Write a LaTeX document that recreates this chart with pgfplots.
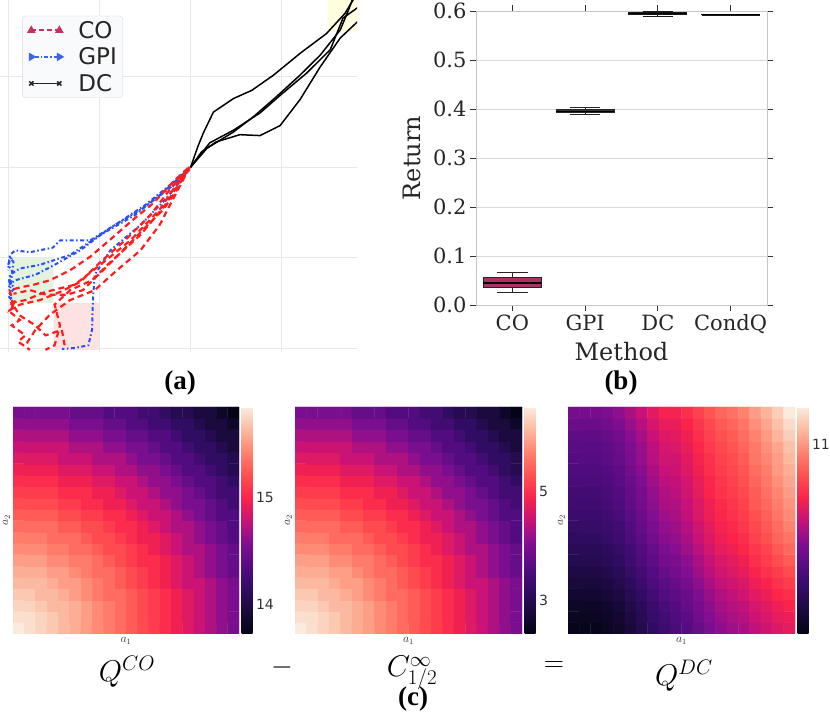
\RequirePackage{fix-cm}
\documentclass[border=0pt]{standalone}
\usepackage{pgfplots}
\pgfplotsset{compat=1.18}
\usepgfplotslibrary{statistics}
\usepackage{fontspec}
\newfontfamily\djsans{DejaVu Sans}
\newfontfamily\djserif{DejaVu Serif}
\newfontfamily\libserif{Liberation Serif}
\definecolor{legbg}{RGB}{248,250,251}
\definecolor{trajred}{RGB}{255,30,30}
\definecolor{trajblue}{RGB}{40,80,245}
\definecolor{legred}{RGB}{200,50,90}
\definecolor{legblue}{RGB}{60,100,230}
\definecolor{cofill}{RGB}{170,50,100}
\definecolor{gpifill}{RGB}{50,50,65}
\definecolor{dcfill}{RGB}{25,25,25}
\definecolor{yelbox}{RGB}{254,254,222}
\definecolor{grnbox}{RGB}{228,242,224}
\definecolor{pnkbox}{RGB}{253,226,226}
\pgfplotsset{
 heat/.style={
   colormap={flare}{rgb255=(4,4,20) rgb255=(25,10,60) rgb255=(50,12,100) rgb255=(85,12,130) rgb255=(130,14,145) rgb255=(200,18,120) rgb255=(250,35,75) rgb255=(255,80,80) rgb255=(255,130,110) rgb255=(252,185,160) rgb255=(250,235,222)},
   anchor=south west, scale only axis, width=227pt, height=227pt,
   xmin=-0.5, xmax=19.5, ymin=-0.5, ymax=19.5, enlargelimits=false,
   axis line style={draw=none}, xtick=\empty, ytick=\empty,
   xlabel={$a_1$}, ylabel={$a_2$},
   label style={font=\fontsize{12}{14}\selectfont, text=black!80, inner sep=1.5pt},
   xlabel style={at={(axis description cs:0.5,-0.008)}, anchor=north},
   ylabel style={at={(axis description cs:-0.006,0.5)}, anchor=south},
   colorbar,
   colorbar shift/.style={xshift=2.5pt},
   colorbar style={width=11pt, axis line style={draw=none}, major tick length=0pt,
     yticklabel style={font=\djsans\fontsize{14}{16}\selectfont, text=black!80, /pgf/number format/assume math mode=true}},
 },
 hm/.style={matrix plot*, mesh/cols=20, point meta=explicit},
}
\begin{document}
\begin{tikzpicture}[x=1pt,y=1pt]
\useasboundingbox (0pt,0pt) rectangle (830pt,720pt);

% ---------------- panel (a) ----------------
\begin{axis}[at={(0pt,368pt)}, anchor=south west, scale only axis, width=357pt, height=352pt,
  xmin=-0.088, xmax=3.823, ymin=-0.044, ymax=3.85,
  axis line style={draw=none}, xtick={0,1,2,3}, ytick={0,1,2,3},
  xticklabels={}, yticklabels={}, major tick length=0pt,
  grid=major, grid style={gray!18, line width=0.8pt},
  legend style={at={(0.062,0.955)}, anchor=north west, draw=gray!30, fill=legbg,
    rounded corners=3pt, font=\djsans\fontsize{23}{27}\selectfont, text=black!85,
    inner xsep=4pt, inner ysep=3pt, row sep=4pt},
  legend cell align=left,
  legend image code/.code={\path (-4pt,0pt) (44pt,0pt); \draw[#1] plot coordinates {(0pt,0pt) (28pt,0pt)};}]
\addplot[draw=none, fill=yelbox, forget plot] coordinates {(3.5,3.5) (3.95,3.5) (3.95,3.95) (3.5,3.95) (3.5,3.5)};
\addplot[draw=none, fill=grnbox, forget plot] coordinates {(0,0.5) (0.5,0.5) (0.5,1.0) (0,1.0) (0,0.5)};
\addplot[draw=none, fill=pnkbox, forget plot] coordinates {(0.5,-0.02) (1.0,-0.02) (1.0,0.5) (0.5,0.5) (0.5,-0.02)};
% GPI
\addplot[trajblue, line width=2pt, dash pattern=on 1.5pt off 2.5pt on 4pt off 2.5pt, forget plot] coordinates {(1.99,2.0) (1.77,1.8) (1.5,1.58) (1.17,1.36) (0.9,1.19) (0.57,1.19) (0.49,1.11) (0.24,1.06) (0.08,1.08) (0.02,1.03) (0.0,0.86)};
\addplot[trajblue, line width=2pt, dash pattern=on 1.5pt off 2.5pt on 4pt off 2.5pt, forget plot] coordinates {(1.97,1.97) (1.66,1.69) (1.39,1.47) (1.01,1.25) (0.68,1.03) (0.35,0.92) (0.13,0.88) (0.02,0.81) (0.01,0.64)};
\addplot[trajblue, line width=2pt, dash pattern=on 1.5pt off 2.5pt on 4pt off 2.5pt, forget plot] coordinates {(1.97,1.95) (1.72,1.64) (1.45,1.36) (1.12,1.08) (0.95,0.81) (0.93,0.53) (0.92,0.2) (0.88,0.03) (0.73,0.0) (0.59,-0.01)};
\addplot[trajblue, line width=2pt, dash pattern=on 1.5pt off 2.5pt on 4pt off 2.5pt, forget plot] coordinates {(1.99,1.97) (1.75,1.75) (1.45,1.53) (1.12,1.33) (0.79,1.08) (0.51,0.92) (0.30,0.81) (0.08,0.75) (0.01,0.7)};
\addplot[trajblue, line width=2pt, dash pattern=on 1.5pt off 2.5pt on 4pt off 2.5pt, forget plot] coordinates {(0.04,1.0) (0.0,0.92) (0.05,0.84) (0.01,0.75) (0.07,0.66) (0.0,0.58) (0.04,0.53) (0.02,0.62) (0.06,0.95) (0.01,1.02)};
% CO
\addplot[trajred, line width=2.2pt, dash pattern=on 6pt off 4pt, forget plot] coordinates {(1.97,1.99) (1.81,1.84) (1.59,1.6) (1.37,1.42) (1.12,1.2) (0.9,1.01) (0.68,0.86) (0.46,0.75) (0.28,0.7) (0.13,0.67) (0.02,0.64) (0.05,0.5) (0.0,0.45)};
\addplot[trajred, line width=2.2pt, dash pattern=on 6pt off 4pt, forget plot] coordinates {(1.97,1.99) (1.85,1.75) (1.70,1.53) (1.48,1.31) (1.23,1.05) (1.01,0.83) (0.82,0.64) (0.64,0.59) (0.42,0.59) (0.24,0.64) (0.06,0.6)};
\addplot[trajred, line width=2.2pt, dash pattern=on 6pt off 4pt, forget plot] coordinates {(1.99,2.0) (1.77,1.75) (1.56,1.47) (1.28,1.19) (1.01,0.95) (0.79,0.73) (0.57,0.62) (0.35,0.53) (0.13,0.48) (0.02,0.42) (0.08,0.53) (0.02,0.40) (0.13,0.31) (0.04,0.25) (0.19,0.14) (0.11,0.07) (0.24,-0.02)};
\addplot[trajred, line width=2.2pt, dash pattern=on 6pt off 4pt, forget plot] coordinates {(1.99,2.0) (1.83,1.69) (1.66,1.36) (1.45,1.08) (1.17,0.84) (0.95,0.64) (0.68,0.53) (0.46,0.37) (0.30,0.2) (0.19,0.03)};
\addplot[trajred, line width=2.2pt, dash pattern=on 6pt off 4pt, forget plot] coordinates {(1.97,1.97) (1.72,1.58) (1.45,1.25) (1.12,0.95) (0.92,0.75) (0.68,0.64) (0.51,0.48) (0.57,0.25) (0.51,0.03) (0.41,-0.02)};
\addplot[trajred, line width=2.2pt, dash pattern=on 6pt off 4pt, forget plot] coordinates {(1.94,1.95) (1.66,1.53) (1.34,1.19) (1.01,0.92) (0.73,0.70) (0.41,0.62) (0.19,0.53) (0.04,0.50) (0.13,0.36) (0.30,0.25) (0.41,0.14) (0.59,0.2) (0.62,0.03)};
% DC
\addplot[black, line width=1.5pt, forget plot] coordinates {(2.0,2.0) (2.08,2.23) (2.14,2.38) (2.25,2.61) (2.47,2.76) (2.67,2.85) (2.91,3.02) (3.2,3.26) (3.49,3.48) (3.69,3.70) (3.78,3.85) (3.8,3.9)};
\addplot[black, line width=1.5pt, forget plot] coordinates {(2.0,2.0) (2.18,2.21) (2.47,2.39) (2.69,2.56) (2.94,2.78) (3.2,3.02) (3.42,3.24) (3.64,3.52) (3.73,3.74) (3.79,3.9)};
\addplot[black, line width=1.5pt, forget plot] coordinates {(2.0,2.0) (2.21,2.27) (2.47,2.41) (2.76,2.6) (3.01,2.82) (3.27,3.04) (3.53,3.3) (3.67,3.65) (3.85,3.78)};
\addplot[black, line width=1.5pt, forget plot] coordinates {(2.0,2.0) (2.12,2.17) (2.28,2.28) (2.54,2.36) (2.76,2.35) (2.98,2.46) (3.2,2.75) (3.42,3.11) (3.64,3.43) (3.85,3.63)};
\addlegendimage{legred, line width=2pt, dash pattern=on 5pt off 3pt, mark=triangle*, mark size=3pt, mark options={solid}}
\addlegendentry{CO}
\addlegendimage{legblue, line width=2pt, dash pattern=on 1.5pt off 2pt on 4pt off 2pt, mark=triangle*, mark size=3pt, mark options={solid, rotate=-90}}
\addlegendentry{GPI}
\addlegendimage{black!85, line width=1.5pt, mark=x, mark size=3pt}
\addlegendentry{DC}
\end{axis}

% ---------------- panel (b) ----------------
\begin{axis}[at={(476pt,415pt)}, anchor=south west, scale only axis, width=291pt, height=294pt,
  xmin=-0.5, xmax=3.5, ymin=0, ymax=0.6,
  xtick={0,1,2,3}, xticklabels={CO,GPI,DC,CondQ},
  ytick={0,0.1,0.2,0.3,0.4,0.5,0.6},
  yticklabel style={/pgf/number format/.cd, fixed, fixed zerofill, precision=1, assume math mode=true},
  ticklabel style={font=\djserif\fontsize{21}{24}\selectfont, text=black!85},
  ymajorgrids, grid style={gray!30, line width=0.8pt},
  axis line style={gray!45, line width=0.8pt},
  tick align=outside, tick pos=both, major tick length=6pt,
  tick style={black!80, line width=0.9pt},
  xlabel={Method}, ylabel={Return},
  label style={font=\djserif\fontsize{24}{28}\selectfont, text=black!85},
  xlabel style={at={(axis description cs:0.5,-0.16)}, anchor=center},
  ylabel style={at={(axis description cs:-0.22,0.5)}, anchor=center},
  boxplot/draw direction=y,
  boxplot/box extend=0.8, boxplot/whisker extend=0.42,
  boxplot/every median/.style={black, line width=1.3pt}]
\addplot[boxplot prepared={draw position=0, lower whisker=0.025, lower quartile=0.035, median=0.045, upper quartile=0.056, upper whisker=0.066}, draw=black!85, fill=cofill, line width=1pt] coordinates {};
\addplot[boxplot prepared={draw position=1, lower whisker=0.388, lower quartile=0.392, median=0.395, upper quartile=0.399, upper whisker=0.403}, draw=black!85, fill=gpifill, line width=1pt] coordinates {};
\addplot[boxplot prepared={draw position=2, lower whisker=0.589, lower quartile=0.592, median=0.595, upper quartile=0.5975, upper whisker=0.598}, draw=black!90, fill=dcfill, line width=1pt] coordinates {};
\addplot[boxplot prepared={draw position=3, lower whisker=0.5922, lower quartile=0.5923, median=0.5925, upper quartile=0.5927, upper whisker=0.5928}, draw=black!90, fill=dcfill, line width=1.2pt] coordinates {};
\end{axis}

% ---------------- panel (c) ----------------
\begin{axis}[heat, at={(13pt,86pt)}, width=226pt, point meta min=13.72, point meta max=15.85, colorbar style={ytick={14,15}}]
\addplot[hm] table[row sep=\\, x expr={\coordindex-20*floor((\coordindex+0.5)/20)}, y expr={floor((\coordindex+0.5)/20)}, meta=v] {
v\\
15.85\\15.80\\15.75\\15.70\\15.64\\15.59\\15.53\\15.46\\15.40\\15.33\\15.26\\15.19\\15.12\\15.04\\14.96\\14.88\\14.80\\14.71\\14.62\\14.53\\
15.80\\15.80\\15.75\\15.70\\15.64\\15.59\\15.53\\15.46\\15.40\\15.33\\15.26\\15.19\\15.12\\15.04\\14.96\\14.88\\14.80\\14.71\\14.62\\14.53\\
15.75\\15.75\\15.70\\15.64\\15.64\\15.59\\15.53\\15.46\\15.40\\15.33\\15.26\\15.19\\15.12\\15.04\\14.96\\14.88\\14.80\\14.71\\14.62\\14.53\\
15.70\\15.70\\15.64\\15.64\\15.59\\15.53\\15.46\\15.40\\15.33\\15.33\\15.26\\15.19\\15.12\\15.04\\14.96\\14.88\\14.80\\14.71\\14.62\\14.53\\
15.64\\15.64\\15.64\\15.59\\15.53\\15.53\\15.46\\15.40\\15.33\\15.26\\15.19\\15.12\\15.04\\14.96\\14.88\\14.80\\14.80\\14.71\\14.62\\14.53\\
15.59\\15.59\\15.59\\15.53\\15.53\\15.46\\15.40\\15.33\\15.33\\15.26\\15.19\\15.12\\15.04\\14.96\\14.88\\14.80\\14.71\\14.62\\14.53\\14.44\\
15.53\\15.53\\15.53\\15.46\\15.46\\15.40\\15.40\\15.33\\15.26\\15.19\\15.12\\15.04\\15.04\\14.96\\14.88\\14.80\\14.71\\14.62\\14.53\\14.44\\
15.46\\15.46\\15.46\\15.40\\15.40\\15.33\\15.33\\15.26\\15.19\\15.19\\15.12\\15.04\\14.96\\14.88\\14.80\\14.71\\14.71\\14.62\\14.53\\14.44\\
15.40\\15.40\\15.40\\15.33\\15.33\\15.33\\15.26\\15.19\\15.19\\15.12\\15.04\\14.96\\14.96\\14.88\\14.80\\14.71\\14.62\\14.53\\14.44\\14.34\\
15.33\\15.33\\15.33\\15.33\\15.26\\15.26\\15.19\\15.19\\15.12\\15.04\\15.04\\14.96\\14.88\\14.80\\14.71\\14.71\\14.62\\14.53\\14.44\\14.34\\
15.26\\15.26\\15.26\\15.26\\15.19\\15.19\\15.12\\15.12\\15.04\\15.04\\14.96\\14.88\\14.80\\14.80\\14.71\\14.62\\14.53\\14.44\\14.34\\14.34\\
15.19\\15.19\\15.19\\15.19\\15.12\\15.12\\15.04\\15.04\\14.96\\14.96\\14.88\\14.80\\14.80\\14.71\\14.62\\14.53\\14.53\\14.44\\14.34\\14.24\\
15.12\\15.12\\15.12\\15.12\\15.04\\15.04\\15.04\\14.96\\14.96\\14.88\\14.80\\14.80\\14.71\\14.62\\14.62\\14.53\\14.44\\14.34\\14.24\\14.24\\
15.04\\15.04\\15.04\\15.04\\14.96\\14.96\\14.96\\14.88\\14.88\\14.80\\14.80\\14.71\\14.62\\14.62\\14.53\\14.44\\14.34\\14.34\\14.24\\14.14\\
14.96\\14.96\\14.96\\14.96\\14.88\\14.88\\14.88\\14.80\\14.80\\14.71\\14.71\\14.62\\14.62\\14.53\\14.44\\14.34\\14.34\\14.24\\14.14\\14.04\\
14.88\\14.88\\14.88\\14.88\\14.80\\14.80\\14.80\\14.71\\14.71\\14.71\\14.62\\14.53\\14.53\\14.44\\14.34\\14.34\\14.24\\14.14\\14.14\\14.04\\
14.80\\14.80\\14.80\\14.80\\14.80\\14.71\\14.71\\14.71\\14.62\\14.62\\14.53\\14.53\\14.44\\14.34\\14.34\\14.24\\14.14\\14.14\\14.04\\13.94\\
14.71\\14.71\\14.71\\14.71\\14.71\\14.62\\14.62\\14.62\\14.53\\14.53\\14.44\\14.44\\14.34\\14.34\\14.24\\14.14\\14.14\\14.04\\13.94\\13.94\\
14.62\\14.62\\14.62\\14.62\\14.62\\14.53\\14.53\\14.53\\14.44\\14.44\\14.34\\14.34\\14.24\\14.24\\14.14\\14.14\\14.04\\13.94\\13.94\\13.83\\
14.53\\14.53\\14.53\\14.53\\14.53\\14.44\\14.44\\14.44\\14.34\\14.34\\14.34\\14.24\\14.24\\14.14\\14.04\\14.04\\13.94\\13.94\\13.83\\13.72\\
};
\end{axis}

\begin{axis}[heat, at={(295pt,86pt)}, point meta min=2.38, point meta max=6.54, colorbar style={ytick={3,5}}]
\addplot[hm] table[row sep=\\, x expr={\coordindex-20*floor((\coordindex+0.5)/20)}, y expr={floor((\coordindex+0.5)/20)}, meta=v] {
v\\
6.54\\6.44\\6.34\\6.25\\6.13\\6.03\\5.92\\5.78\\5.66\\5.52\\5.39\\5.25\\5.11\\4.96\\4.80\\4.65\\4.49\\4.31\\4.14\\3.96\\
6.44\\6.44\\6.34\\6.25\\6.13\\6.03\\5.92\\5.78\\5.66\\5.52\\5.39\\5.25\\5.11\\4.96\\4.80\\4.65\\4.49\\4.31\\4.14\\3.96\\
6.34\\6.34\\6.25\\6.13\\6.13\\6.03\\5.92\\5.78\\5.66\\5.52\\5.39\\5.25\\5.11\\4.96\\4.80\\4.65\\4.49\\4.31\\4.14\\3.96\\
6.25\\6.25\\6.13\\6.13\\6.03\\5.92\\5.78\\5.66\\5.52\\5.52\\5.39\\5.25\\5.11\\4.96\\4.80\\4.65\\4.49\\4.31\\4.14\\3.96\\
6.13\\6.13\\6.13\\6.03\\5.92\\5.92\\5.78\\5.66\\5.52\\5.39\\5.25\\5.11\\4.96\\4.80\\4.65\\4.49\\4.49\\4.31\\4.14\\3.96\\
6.03\\6.03\\6.03\\5.92\\5.92\\5.78\\5.66\\5.52\\5.52\\5.39\\5.25\\5.11\\4.96\\4.80\\4.65\\4.49\\4.31\\4.14\\3.96\\3.79\\
5.92\\5.92\\5.92\\5.78\\5.78\\5.66\\5.66\\5.52\\5.39\\5.25\\5.11\\4.96\\4.96\\4.80\\4.65\\4.49\\4.31\\4.14\\3.96\\3.79\\
5.78\\5.78\\5.78\\5.66\\5.66\\5.52\\5.52\\5.39\\5.25\\5.25\\5.11\\4.96\\4.80\\4.65\\4.49\\4.31\\4.31\\4.14\\3.96\\3.79\\
5.66\\5.66\\5.66\\5.52\\5.52\\5.52\\5.39\\5.25\\5.25\\5.11\\4.96\\4.80\\4.80\\4.65\\4.49\\4.31\\4.14\\3.96\\3.79\\3.59\\
5.52\\5.52\\5.52\\5.52\\5.39\\5.39\\5.25\\5.25\\5.11\\4.96\\4.96\\4.80\\4.65\\4.49\\4.31\\4.31\\4.14\\3.96\\3.79\\3.59\\
5.39\\5.39\\5.39\\5.39\\5.25\\5.25\\5.11\\5.11\\4.96\\4.96\\4.80\\4.65\\4.49\\4.49\\4.31\\4.14\\3.96\\3.79\\3.59\\3.59\\
5.25\\5.25\\5.25\\5.25\\5.11\\5.11\\4.96\\4.96\\4.80\\4.80\\4.65\\4.49\\4.49\\4.31\\4.14\\3.96\\3.96\\3.79\\3.59\\3.40\\
5.11\\5.11\\5.11\\5.11\\4.96\\4.96\\4.96\\4.80\\4.80\\4.65\\4.49\\4.49\\4.31\\4.14\\4.14\\3.96\\3.79\\3.59\\3.40\\3.40\\
4.96\\4.96\\4.96\\4.96\\4.80\\4.80\\4.80\\4.65\\4.65\\4.49\\4.49\\4.31\\4.14\\4.14\\3.96\\3.79\\3.59\\3.59\\3.40\\3.20\\
4.80\\4.80\\4.80\\4.80\\4.65\\4.65\\4.65\\4.49\\4.49\\4.31\\4.31\\4.14\\4.14\\3.96\\3.79\\3.59\\3.59\\3.40\\3.20\\3.00\\
4.65\\4.65\\4.65\\4.65\\4.49\\4.49\\4.49\\4.31\\4.31\\4.31\\4.14\\3.96\\3.96\\3.79\\3.59\\3.59\\3.40\\3.20\\3.20\\3.00\\
4.49\\4.49\\4.49\\4.49\\4.49\\4.31\\4.31\\4.31\\4.14\\4.14\\3.96\\3.96\\3.79\\3.59\\3.59\\3.40\\3.20\\3.20\\3.00\\2.81\\
4.31\\4.31\\4.31\\4.31\\4.31\\4.14\\4.14\\4.14\\3.96\\3.96\\3.79\\3.79\\3.59\\3.59\\3.40\\3.20\\3.20\\3.00\\2.81\\2.81\\
4.14\\4.14\\4.14\\4.14\\4.14\\3.96\\3.96\\3.96\\3.79\\3.79\\3.59\\3.59\\3.40\\3.40\\3.20\\3.20\\3.00\\2.81\\2.81\\2.60\\
3.96\\3.96\\3.96\\3.96\\3.96\\3.79\\3.79\\3.79\\3.59\\3.59\\3.59\\3.40\\3.40\\3.20\\3.00\\3.00\\2.81\\2.81\\2.60\\2.38\\
};
\end{axis}

\begin{axis}[heat, at={(568pt,86pt)}, point meta min=10.0, point meta max=11.2, colorbar style={ytick={11}}]
\addplot[hm] table[row sep=\\, x expr={\coordindex-20*floor((\coordindex+0.5)/20)}, y expr={floor((\coordindex+0.5)/20)}, meta=v] {
v\\
10.02\\10.02\\10.02\\10.04\\10.07\\10.12\\10.17\\10.23\\10.28\\10.32\\10.36\\10.41\\10.46\\10.50\\10.53\\10.55\\10.59\\10.62\\10.65\\10.67\\
10.04\\10.04\\10.04\\10.06\\10.09\\10.14\\10.19\\10.25\\10.30\\10.34\\10.38\\10.43\\10.48\\10.52\\10.55\\10.57\\10.61\\10.64\\10.67\\10.69\\
10.06\\10.06\\10.06\\10.08\\10.11\\10.16\\10.21\\10.27\\10.32\\10.36\\10.40\\10.45\\10.50\\10.54\\10.57\\10.59\\10.63\\10.66\\10.69\\10.72\\
10.09\\10.09\\10.09\\10.11\\10.14\\10.19\\10.24\\10.30\\10.35\\10.38\\10.42\\10.47\\10.52\\10.56\\10.59\\10.62\\10.66\\10.69\\10.73\\10.75\\
10.12\\10.12\\10.12\\10.14\\10.17\\10.22\\10.27\\10.33\\10.38\\10.41\\10.45\\10.50\\10.55\\10.59\\10.62\\10.64\\10.69\\10.72\\10.76\\10.79\\
10.15\\10.15\\10.15\\10.17\\10.20\\10.25\\10.30\\10.36\\10.41\\10.44\\10.48\\10.53\\10.58\\10.62\\10.65\\10.67\\10.72\\10.76\\10.79\\10.83\\
10.18\\10.18\\10.18\\10.20\\10.23\\10.28\\10.33\\10.39\\10.44\\10.46\\10.50\\10.55\\10.60\\10.64\\10.67\\10.70\\10.75\\10.79\\10.83\\10.87\\
10.20\\10.20\\10.20\\10.22\\10.25\\10.30\\10.35\\10.41\\10.46\\10.49\\10.53\\10.58\\10.63\\10.67\\10.70\\10.73\\10.77\\10.81\\10.86\\10.90\\
10.23\\10.23\\10.23\\10.25\\10.28\\10.33\\10.38\\10.44\\10.49\\10.51\\10.55\\10.60\\10.65\\10.69\\10.72\\10.75\\10.80\\10.84\\10.89\\10.93\\
10.25\\10.25\\10.25\\10.27\\10.30\\10.35\\10.40\\10.46\\10.51\\10.53\\10.57\\10.62\\10.67\\10.71\\10.74\\10.77\\10.82\\10.86\\10.91\\10.96\\
10.27\\10.27\\10.27\\10.29\\10.32\\10.37\\10.42\\10.48\\10.53\\10.55\\10.59\\10.64\\10.69\\10.73\\10.76\\10.79\\10.84\\10.88\\10.93\\10.98\\
10.29\\10.29\\10.29\\10.31\\10.34\\10.39\\10.44\\10.50\\10.55\\10.56\\10.60\\10.65\\10.70\\10.74\\10.77\\10.80\\10.86\\10.90\\10.95\\11.00\\
10.30\\10.30\\10.30\\10.32\\10.35\\10.40\\10.45\\10.51\\10.56\\10.58\\10.62\\10.67\\10.72\\10.76\\10.79\\10.82\\10.87\\10.92\\10.97\\11.02\\
10.32\\10.32\\10.32\\10.34\\10.37\\10.42\\10.47\\10.53\\10.58\\10.59\\10.63\\10.68\\10.73\\10.77\\10.80\\10.84\\10.89\\10.94\\10.99\\11.04\\
10.34\\10.34\\10.34\\10.36\\10.39\\10.44\\10.49\\10.55\\10.60\\10.61\\10.65\\10.70\\10.75\\10.79\\10.82\\10.85\\10.91\\10.95\\11.01\\11.06\\
10.36\\10.36\\10.36\\10.38\\10.41\\10.46\\10.51\\10.57\\10.62\\10.62\\10.66\\10.71\\10.76\\10.80\\10.83\\10.87\\10.93\\10.97\\11.02\\11.08\\
10.37\\10.37\\10.37\\10.39\\10.42\\10.47\\10.52\\10.58\\10.63\\10.64\\10.68\\10.73\\10.78\\10.82\\10.85\\10.89\\10.94\\10.99\\11.04\\11.10\\
10.39\\10.39\\10.39\\10.41\\10.44\\10.49\\10.54\\10.60\\10.65\\10.66\\10.70\\10.75\\10.80\\10.84\\10.87\\10.91\\10.96\\11.01\\11.07\\11.13\\
10.42\\10.42\\10.42\\10.44\\10.47\\10.52\\10.57\\10.63\\10.68\\10.68\\10.72\\10.77\\10.82\\10.86\\10.89\\10.93\\10.99\\11.04\\11.10\\11.16\\
10.45\\10.45\\10.45\\10.47\\10.50\\10.55\\10.60\\10.66\\10.71\\10.71\\10.75\\10.80\\10.85\\10.89\\10.92\\10.96\\11.02\\11.07\\11.13\\11.20\\
};
\end{axis}

% labels
\node[font=\libserif\bfseries\fontsize{27}{30}\selectfont] at (180pt,337pt) {(a)};
\node[font=\libserif\bfseries\fontsize{27}{30}\selectfont] at (621pt,337pt) {(b)};
\node[font=\libserif\bfseries\fontsize{27}{30}\selectfont] at (413pt,21pt) {(c)};
\node[font=\fontsize{30}{34}\selectfont] at (127pt,48pt) {$Q^{CO}$};
\node[font=\fontsize{30}{34}\selectfont, inner sep=0pt] at (412pt,47pt) {$C^{\infty}_{1/2}$};
\node[font=\fontsize{30}{34}\selectfont] at (684pt,44pt) {$Q^{DC}$};
\node[font=\fontsize{28}{32}\selectfont] at (282pt,52pt) {$-$};
\node[font=\fontsize{28}{32}\selectfont] at (554pt,53pt) {$=$};
\end{tikzpicture}
\end{document}
